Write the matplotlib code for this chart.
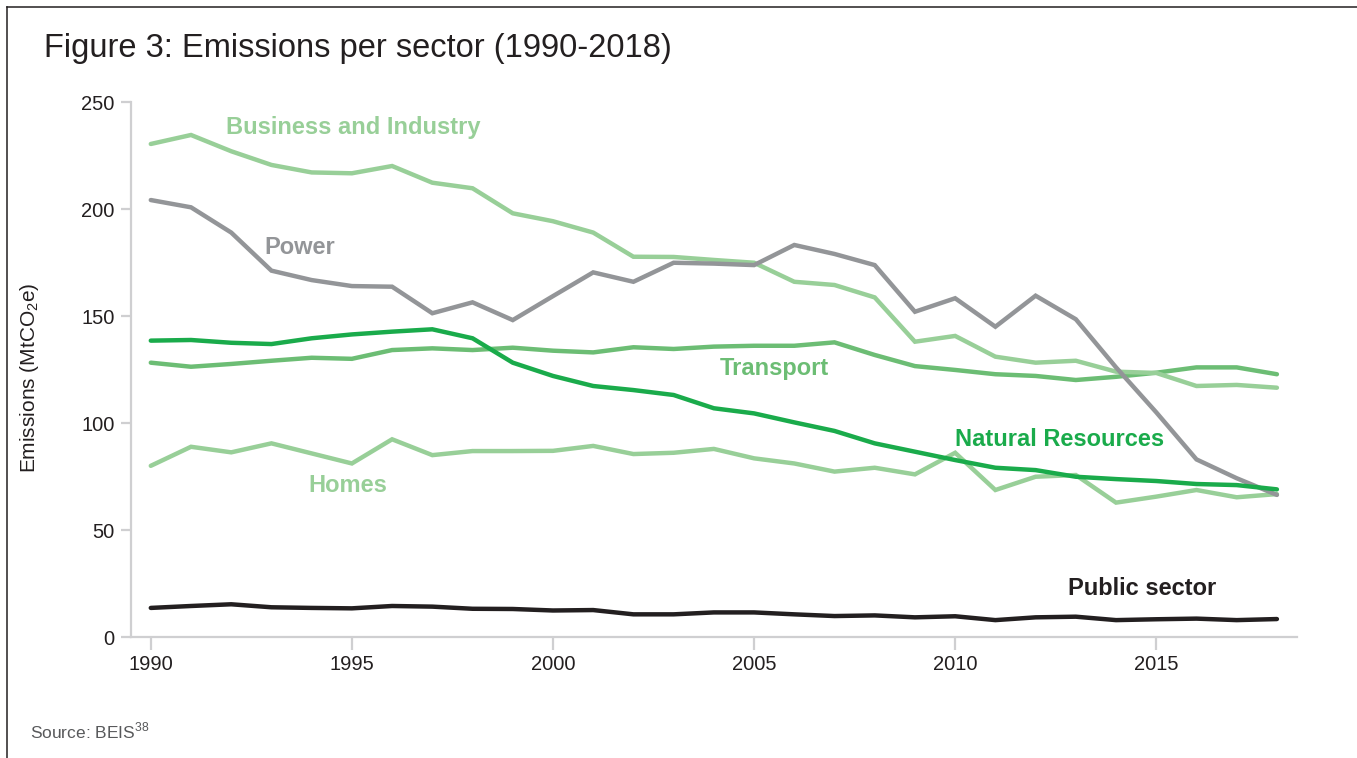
import numpy as np
import matplotlib
matplotlib.use("Agg")
import matplotlib.pyplot as plt
from matplotlib.lines import Line2D

# ------------------------------------------------------------
# DATA (MtCO2e)
# ------------------------------------------------------------
years = list(range(1990, 2019))

business = [230.4, 234.6, 227.0, 220.6, 217.1, 216.7, 220.1, 212.3, 209.7, 198.0,
            194.3, 189.0, 177.7, 177.6, 176.2, 174.9, 166.0, 164.5, 158.7, 138.0,
            140.7, 131.0, 128.2, 129.1, 124.0, 123.4, 117.3, 117.8, 116.5]
power = [204.2, 200.8, 189.0, 171.2, 166.8, 164.0, 163.7, 151.3, 156.4, 148.1,
         159.3, 170.4, 166.0, 174.9, 174.5, 173.8, 183.2, 179.0, 173.8, 152.0,
         158.3, 145.0, 159.5, 148.5, 126.0, 105.0, 83.0, 74.2, 66.4]
transport = [128.2, 126.3, 127.6, 129.1, 130.5, 130.0, 134.1, 134.9, 134.1, 135.2,
             133.8, 133.0, 135.4, 134.6, 135.7, 136.1, 136.1, 137.7, 131.8, 126.6,
             124.8, 122.8, 122.0, 120.1, 121.6, 123.5, 126.0, 126.0, 122.8]
natural = [138.5, 138.8, 137.5, 136.9, 139.6, 141.4, 142.7, 143.8, 139.6, 128.2,
           122.0, 117.3, 115.4, 113.1, 106.9, 104.5, 100.3, 96.3, 90.5, 86.6,
           82.7, 79.1, 78.0, 74.9, 73.8, 72.9, 71.5, 71.0, 69.0]
homes = [80.0, 88.9, 86.3, 90.5, 85.8, 81.1, 92.4, 85.0, 86.9, 86.9,
         87.0, 89.3, 85.5, 86.1, 87.9, 83.5, 81.1, 77.3, 79.1, 76.0,
         86.1, 68.7, 74.9, 75.7, 62.8, 65.6, 68.7, 65.3, 66.8]
public = [13.6, 14.5, 15.3, 13.9, 13.6, 13.4, 14.5, 14.2, 13.2, 13.1,
          12.4, 12.6, 10.6, 10.6, 11.5, 11.5, 10.6, 9.8, 10.1, 9.2,
          9.7, 7.9, 9.2, 9.5, 7.9, 8.3, 8.6, 7.9, 8.4]

# ------------------------------------------------------------
# STYLE
# ------------------------------------------------------------
plt.rcParams["font.family"] = ["Liberation Sans", "DejaVu Sans"]
plt.rcParams["mathtext.fontset"] = "custom"
plt.rcParams["mathtext.rm"] = "Liberation Sans"

LIGHT = "#98cf98"
MID = "#6cbd74"
BRIGHT = "#1aab4b"
GREY = "#939598"
BLACK = "#231f20"
AXIS = "#cfcfd1"

# (name, values, colour, label x, label y)
series = [
    ("Homes", homes, LIGHT, 1993.93, 71.0),
    ("Transport", transport, MID, 2004.15, 125.7),
    ("Business and Industry", business, LIGHT, 1991.87, 237.9),
    ("Power", power, GREY, 1992.82, 181.8),
    ("Natural Resources", natural, BRIGHT, 2009.99, 92.5),
    ("Public sector", public, BLACK, 2012.8, 22.9),
]

# ------------------------------------------------------------
# PLOT
# ------------------------------------------------------------
fig = plt.figure(figsize=(13.57, 7.58), dpi=100)
ax = fig.add_axes([0.0963, 0.1596, 0.8595, 0.7058])

for name, vals, col, lx, ly in series:
    ax.plot(years, vals, color=col, lw=3.2, solid_capstyle="round",
            solid_joinstyle="miter", zorder=3)
    ax.text(lx, ly, name, color=col, fontsize=17, fontweight="bold",
            ha="left", va="center")

ax.set_xlim(1989.5, 2018.5)
ax.set_ylim(0, 250)
ax.set_xticks([1990, 1995, 2000, 2005, 2010, 2015])
ax.set_yticks([0, 50, 100, 150, 200, 250])

for side in ["top", "right"]:
    ax.spines[side].set_visible(False)
for side in ["left", "bottom"]:
    ax.spines[side].set_color(AXIS)
    ax.spines[side].set_linewidth(1.6)

ax.tick_params(axis="y", length=7.5, width=1.6, color=AXIS, labelsize=14.5,
               labelcolor="#231f20", pad=4)
ax.tick_params(axis="x", length=9, width=1.6, color=AXIS, labelsize=14.5,
               labelcolor="#231f20", pad=4)

ax.set_ylabel(r"Emissions (MtCO$_\mathregular{2}$e)", fontsize=15,
              color="#231f20")
ax.yaxis.label.set_va("center")
ax.yaxis.set_label_coords(-0.0864, 0.485)

fig.text(44 / 1357, 1 - 48 / 758, "Figure 3: Emissions per sector (1990-2018)",
         fontsize=23.5, color="#231f20", ha="left", va="center")
fig.text(30 / 1357, 1 - 731 / 758, r"Source: BEIS$^\mathregular{38}$",
         fontsize=12.5, color="#58595b", ha="left", va="center")

# frame lines at top and left
fig.add_artist(Line2D([7 / 1357, 7 / 1357], [0, 1 - 7 / 758],
                      transform=fig.transFigure, color="#231f20", lw=1.1))
fig.add_artist(Line2D([7 / 1357, 1], [1 - 7 / 758, 1 - 7 / 758],
                      transform=fig.transFigure, color="#231f20", lw=1.1))

fig.savefig("out.png", dpi=100)
